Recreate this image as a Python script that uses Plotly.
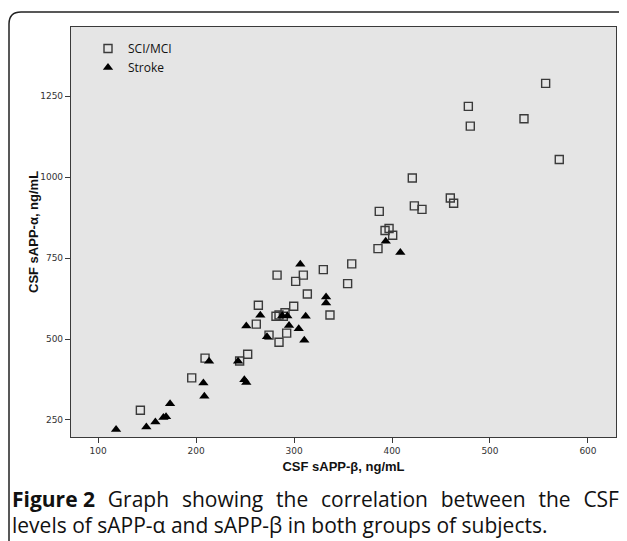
import plotly.graph_objects as go

# ---- data ----
sci_x = [556.8, 477.9, 479.9, 534.7, 570.7, 420.7, 422.8, 430.6, 459.5, 462.9,
         387.0, 392.9, 397.0, 400.7, 385.7, 358.9, 354.7, 329.9, 282.7, 309.5,
         301.7, 313.6, 263.6, 299.7, 281.6, 284.7, 290.8, 289.1, 336.7, 261.5,
         274.5, 292.5, 284.7, 252.7, 244.5, 209.2, 195.6, 143.2]
sci_y = [1289, 1218, 1157, 1180, 1054, 997, 911, 900, 935, 919,
         894, 835, 841, 820, 779, 732, 671, 714, 697, 697,
         678, 639, 604, 601, 570, 574, 581, 570, 574, 546,
         512, 518, 490, 453, 432, 441, 380, 280]

stroke_x = [393.6, 408.5, 306.4, 332.7, 332.7, 265.6, 288.0, 293.2, 311.9, 251.3,
            294.9, 304.8, 272.4, 310.5, 242.9, 213.3, 249.3, 251.3, 207.5, 208.5,
            173.5, 169.4, 166.7, 158.5, 149.3, 118.4]
stroke_y = [802, 767, 731, 630, 611, 573, 572, 571, 570, 540,
            542, 532, 507, 496, 431, 431, 374, 366, 364, 323,
            300, 260, 258, 244, 228, 221]

x_ticks = [100, 200, 300, 400, 500, 600]
y_ticks = [250, 500, 750, 1000, 1250]

x_title = "CSF sAPP-β, ng/mL"
y_title = "CSF sAPP-α, ng/mL"
legend_names = ["SCI/MCI", "Stroke"]
caption_line1_bold = "Figure 2"
caption_line1_words = ["Graph", "showing", "the", "correlation", "between", "the", "CSF"]
caption_line2 = "levels of sAPP-α and sAPP-β in both groups of subjects."

# ---- layout geometry ----
OFF = 8                      # page body margin
W, H = 627 - OFF, 541 - OFF  # figure fits in the window
# plot area in page pixels
L, R, T, B = 71, 616, 27, 437


def px(x):
    return (x - L) / (R - L)


def py(y):
    return (B - y) / (B - T)


fig = go.Figure()
fig.add_trace(go.Scatter(
    x=sci_x, y=sci_y, mode="markers", name=legend_names[0],
    marker=dict(symbol="square-open", size=8, color="#3a3a3a",
                line=dict(width=1.4, color="#3a3a3a")),
))
fig.add_trace(go.Scatter(
    x=stroke_x, y=stroke_y, mode="markers", name=legend_names[1],
    marker=dict(symbol="triangle-up", size=9, color="#000000",
                line=dict(width=0)),
))

axis_common = dict(
    showgrid=False, zeroline=False, showline=True, linecolor="#3a3a3a",
    linewidth=1.2, mirror=True, ticks="outside", ticklen=5, tickwidth=1,
    tickcolor="#3a3a3a",
    tickfont=dict(family="DejaVu Sans", size=9, color="#333333"),
)

title_font = dict(family="Liberation Sans", size=13, color="#111111",
                  weight="bold")
fig.update_xaxes(range=[72.4, 628.6], tickvals=x_ticks,
                 title=dict(text=x_title, standoff=6, font=title_font),
                 **axis_common)
fig.update_yaxes(range=[197.5, 1463], tickvals=y_ticks, **axis_common)

# y-axis title placed like the reference
fig.add_annotation(
    x=px(33), y=py(232), xref="paper", yref="paper", xanchor="center",
    yanchor="middle", showarrow=False, textangle=-90, text=y_title,
    font=title_font,
)

# rounded frame around the figure (extends past right/bottom edges)
x0, y0, rad = 9, 12, 12
path = (f"M {px(x0)} {py(580)} L {px(x0)} {py(y0 + rad)} "
        f"Q {px(x0)} {py(y0)} {px(x0 + rad)} {py(y0)} L {px(680)} {py(y0)}")
fig.add_shape(type="path", path=path, xref="paper", yref="paper",
              line=dict(color="#222222", width=1.5), layer="above")

# caption (first line justified like the reference)
sp = " \u2005\u200a"
line1 = f"<b>{caption_line1_bold}</b>{sp}" + sp.join(caption_line1_words)
cap_font = dict(family="Open Sans", size=21, color="#111111")
fig.add_annotation(
    x=px(10), y=py(499), xref="paper", yref="paper", xanchor="left",
    yanchor="middle", showarrow=False, text=line1, font=cap_font,
)
fig.add_annotation(
    x=px(10), y=py(525), xref="paper", yref="paper", xanchor="left",
    yanchor="middle", showarrow=False, text=caption_line2, font=cap_font,
)

fig.update_layout(
    width=W, height=H,
    margin=dict(l=L - OFF, r=W - (R - OFF), t=T - OFF, b=H - (B - OFF)),
    paper_bgcolor="white", plot_bgcolor="#e5e5e5",
    showlegend=True,
    legend=dict(x=px(88), y=py(34), xanchor="left", yanchor="top",
                bgcolor="rgba(0,0,0,0)", itemwidth=30,
                font=dict(family="Open Sans", size=12, color="#111111"),
                tracegroupgap=0),
)

fig.write_html("out.html")
